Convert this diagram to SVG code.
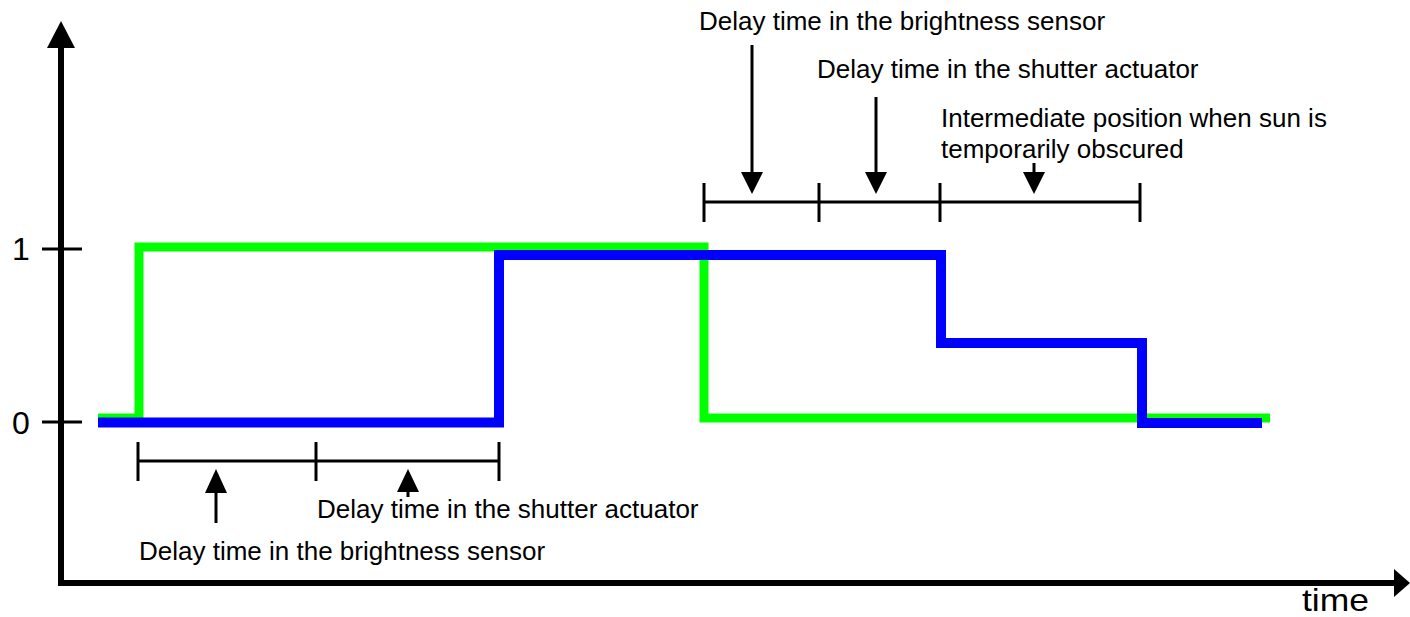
<svg xmlns="http://www.w3.org/2000/svg" width="1410" height="617" viewBox="0 0 1410 617">
  <style>
    .axis { stroke: #000; stroke-width: 6; fill: none; }
    .thin { stroke: #000; stroke-width: 3; fill: none; }
    .head { fill: #000; stroke: none; }
    .lbl { font-family: "Liberation Sans", Arial, sans-serif; font-size: 26px; fill: #000; }
    .big { font-family: "Liberation Sans", Arial, sans-serif; font-size: 32px; fill: #000; }
    .green { stroke: #00ff00; stroke-width: 9; fill: none; stroke-linejoin: miter; }
    .blue { stroke: #0000ff; stroke-width: 10; fill: none; stroke-linejoin: miter; }
  </style>

  <!-- Axes -->
  <g id="axes">
    <line class="axis" x1="61" y1="583" x2="61" y2="46"/>
    <polygon class="head" points="61,21 47,48 75,48"/>
    <line class="axis" x1="58" y1="583" x2="1396" y2="583"/>
    <polygon class="head" points="1410,583 1394,569 1394,597"/>
    <line class="thin" x1="42" y1="249" x2="82" y2="249"/>
    <line class="thin" x1="42" y1="422" x2="82" y2="422"/>
    <text class="big" x="12" y="260">1</text>
    <text class="big" x="12" y="434">0</text>
    <text class="big" x="1302" y="611" font-size="31" textLength="67" lengthAdjust="spacingAndGlyphs">time</text>
  </g>

  <!-- Signal traces -->
  <g id="signals">
    <path id="brightness" class="green" d="M98,418 H139 V247 H704 V418 H1270"/>
    <path id="shutter" class="blue" d="M98,422.5 H499 V255 H941 V343 H1142 V423 H1262"/>
  </g>

  <!-- Time-span markers -->
  <g id="connectors">
    <g id="span-lower">
      <line class="thin" x1="138" y1="461" x2="499" y2="461"/>
      <line class="thin" x1="138" y1="442" x2="138" y2="481"/>
      <line class="thin" x1="316" y1="442" x2="316" y2="481"/>
      <line class="thin" x1="499" y1="442" x2="499" y2="481"/>
      <line class="thin" x1="216" y1="490" x2="216" y2="523"/>
      <polygon class="head" points="216,469 205,493 227,493"/>
      <line class="thin" x1="408" y1="490" x2="408" y2="497"/>
      <polygon class="head" points="408,469 397,492 419,492"/>
    </g>
    <g id="span-upper">
      <line class="thin" x1="704" y1="202" x2="1140" y2="202"/>
      <line class="thin" x1="704" y1="183" x2="704" y2="222"/>
      <line class="thin" x1="819" y1="183" x2="819" y2="222"/>
      <line class="thin" x1="940" y1="183" x2="940" y2="222"/>
      <line class="thin" x1="1140" y1="183" x2="1140" y2="222"/>
      <line class="thin" x1="752" y1="45" x2="752" y2="175"/>
      <polygon class="head" points="752,194 741,172 763,172"/>
      <line class="thin" x1="876" y1="97" x2="876" y2="175"/>
      <polygon class="head" points="876,194 865,172 887,172"/>
      <line class="thin" x1="1034" y1="163" x2="1034" y2="175"/>
      <polygon class="head" points="1034,194 1023,172 1045,172"/>
    </g>
  </g>

  <!-- Annotations -->
  <g id="labels">
    <text class="lbl" x="699" y="30">Delay time in the brightness sensor</text>
    <text class="lbl" x="817" y="78">Delay time in the shutter actuator</text>
    <text class="lbl" x="941" y="127">Intermediate position when sun is</text>
    <text class="lbl" x="941" y="158">temporarily obscured</text>
    <text class="lbl" x="317" y="518">Delay time in the shutter actuator</text>
    <text class="lbl" x="139" y="560">Delay time in the brightness sensor</text>
  </g>
</svg>
